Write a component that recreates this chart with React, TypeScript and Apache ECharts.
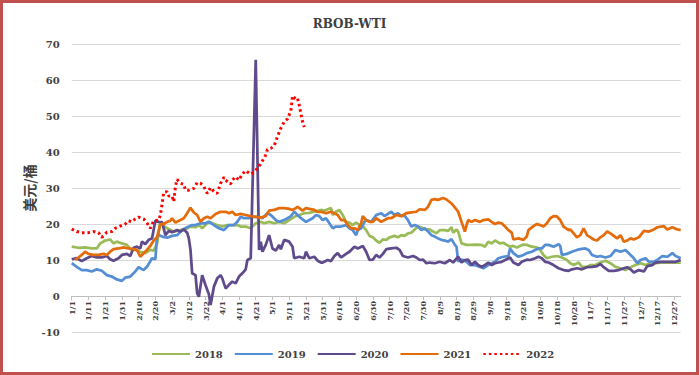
import React, { useEffect, useRef } from "react";
import * as echarts from "echarts";

// Categories: every calendar day of a (non-leap) year, "M/D"
const days: string[] = [];
for (let i = 0; i < 365; i++) {
  const d = new Date(Date.UTC(2021, 0, 1 + i));
  days.push(`${d.getUTCMonth() + 1}/${d.getUTCDate()}`);
}

const yearNames = ["2018", "2019", "2020", "2021", "2022"];

// [day-of-year index, USD/bbl]
const s2018: [number, number][] = [
  [0,13.7],[4,13.4],[8,13.5],[12,13.2],[15,13.2],[17,14.6],[20,15.4],[23,15.7],[25,14.6],[27,15.1],[30,14.6],[33,14.2],[35,13.0],[38,12.8],[41,12.3],[44,11.9],[47,12.8],[49,12.6],[51,14.5],[53,20.6],[55,19.5],[57,18.8],[61,17.9],[65,18.3],[69,18.8],[71,19.3],[74,19.1],[76,19.7],[78,18.8],[80,19.7],[82,20.6],[84,20.2],[87,19.7],[90,19.3],[93,19.7],[96,19.7],[99,19.7],[101,19.3],[104,19.3],[107,18.8],[110,20.2],[113,20.6],[115,20.2],[118,20.6],[121,20.2],[124,20.6],[127,20.2],[130,21.1],[133,22.0],[136,22.5],[139,23.0],[142,23.1],[145,23.4],[149,23.9],[151,23.7],[153,24.1],[155,24.4],[156,22.5],[158,23.4],[160,23.9],[162,22.5],[164,20.6],[166,20.4],[168,19.7],[170,20.4],[172,19.7],[174,19.4],[176,18.3],[178,16.7],[180,16.3],[182,15.4],[184,14.8],[186,15.7],[188,15.6],[190,16.3],[193,16.7],[195,16.3],[197,16.9],[199,16.7],[201,17.4],[203,17.6],[205,18.5],[207,19.3],[209,19.1],[211,18.5],[214,18.5],[216,17.9],[218,17.4],[220,18.3],[223,18.3],[225,18.1],[227,19.1],[228,17.6],[230,18.5],[231,17.9],[233,14.6],[236,14.2],[239,14.2],[242,14.3],[245,14.2],[247,13.7],[249,15.1],[251,14.6],[253,15.4],[256,14.6],[258,14.8],[260,14.2],[262,13.7],[264,13.9],[266,13.5],[268,13.9],[270,14.3],[272,14.2],[275,13.7],[278,13.5],[280,12.8],[282,11.4],[284,10.5],[287,10.9],[290,11.1],[293,10.7],[296,10.0],[298,9.1],[300,8.6],[303,9.3],[305,8.1],[308,8.1],[310,8.6],[313,8.6],[316,9.3],[319,9.8],[322,9.1],[325,8.1],[328,7.7],[331,7.2],[334,8.0],[337,8.6],[340,9.1],[343,8.6],[346,9.1],[349,9.1],[352,9.3],[356,9.3],[360,9.3],[364,9.3]
];

const s2019: [number, number][] = [
  [0,9.1],[3,8.1],[6,7.2],[9,7.2],[12,6.8],[15,7.4],[18,7.0],[21,5.8],[24,5.4],[27,4.6],[30,4.2],[32,5.1],[35,5.4],[38,6.8],[40,8.0],[43,7.2],[45,8.1],[48,10.5],[50,10.2],[51,16.5],[52,17.0],[54,16.5],[57,16.2],[60,16.7],[63,16.9],[66,18.3],[69,19.1],[72,19.7],[74,19.7],[77,20.2],[80,20.2],[82,20.6],[85,19.7],[88,18.8],[91,18.3],[94,19.7],[97,19.7],[99,20.6],[101,22.0],[103,21.6],[106,21.6],[109,22.0],[112,22.0],[114,21.6],[117,23.0],[119,22.5],[122,21.1],[124,20.6],[127,21.1],[129,21.6],[131,22.2],[133,23.4],[135,22.5],[137,21.6],[140,20.6],[142,21.1],[144,21.6],[146,22.5],[148,22.2],[150,21.1],[152,21.6],[154,20.2],[156,18.8],[158,19.3],[161,19.3],[164,19.7],[166,18.8],[168,18.3],[170,16.9],[171,18.3],[173,18.8],[175,20.6],[176,21.1],[179,20.6],[182,22.5],[185,23.0],[187,22.2],[189,22.8],[191,23.4],[193,22.5],[195,23.0],[197,22.2],[199,22.3],[201,21.1],[203,19.3],[205,19.7],[207,19.3],[209,18.3],[211,18.8],[213,17.9],[215,16.9],[217,16.5],[219,16.0],[221,15.6],[223,15.4],[225,15.1],[227,15.8],[229,14.2],[230,13.7],[231,9.5],[232,10.2],[234,10.0],[236,9.5],[238,8.6],[241,8.6],[244,8.1],[246,7.7],[249,8.6],[251,9.1],[253,9.5],[255,10.5],[258,10.9],[261,11.1],[262,13.2],[264,11.9],[267,10.9],[270,11.4],[272,11.9],[275,12.3],[277,12.8],[279,13.2],[281,13.2],[283,14.2],[285,14.2],[288,13.7],[291,14.4],[292,13.9],[293,11.4],[296,11.7],[299,12.3],[302,12.8],[304,13.0],[307,13.2],[309,12.8],[311,11.4],[314,10.9],[316,11.1],[319,10.7],[322,11.1],[325,12.8],[328,12.3],[331,12.8],[333,11.9],[336,10.5],[338,9.1],[340,10.0],[343,10.5],[345,9.5],[348,9.5],[350,10.0],[353,11.1],[356,10.9],[359,11.9],[361,11.1],[364,10.5]
];

const s2020: [number, number][] = [
  [0,10.2],[3,10.5],[6,9.7],[9,10.5],[12,11.1],[15,10.7],[18,10.7],[21,11.1],[23,10.2],[25,9.8],[28,10.5],[30,11.4],[33,11.7],[35,11.1],[37,13.4],[39,13.7],[41,13.2],[42,15.1],[44,14.4],[46,15.6],[48,16.0],[50,20.9],[52,20.6],[54,20.5],[56,16.9],[58,18.1],[60,17.7],[63,18.3],[65,17.9],[67,18.5],[69,17.6],[70,16.0],[71,12.8],[72,6.3],[74,5.8],[75,0.7],[76,-0.2],[78,5.8],[80,3.0],[82,0.5],[83,-2.5],[85,2.6],[87,4.9],[89,5.8],[90,4.9],[92,2.1],[94,3.1],[96,4.0],[98,3.5],[100,5.4],[102,6.3],[104,7.4],[105,10.0],[107,10.5],[110,65.6],[112,12.8],[113,15.1],[114,12.3],[116,14.2],[118,16.9],[120,13.2],[122,12.6],[124,14.2],[125,13.0],[127,15.6],[130,15.1],[132,13.7],[133,10.5],[136,10.9],[139,10.5],[140,12.3],[142,10.5],[145,10.9],[147,9.8],[149,9.3],[150,9.3],[153,10.0],[155,9.7],[157,11.1],[159,11.9],[161,10.7],[164,11.7],[166,12.3],[169,13.7],[171,13.2],[174,13.9],[176,12.3],[178,10.0],[180,10.1],[182,11.4],[184,10.7],[186,11.7],[188,13.0],[191,13.2],[194,13.4],[196,12.8],[198,11.1],[201,10.7],[204,11.1],[206,10.7],[208,10.0],[210,10.1],[212,9.1],[214,9.3],[217,9.1],[220,9.5],[223,9.1],[226,10.0],[228,9.3],[231,10.9],[233,9.3],[235,10.0],[237,10.1],[239,8.6],[241,9.5],[243,8.6],[245,8.1],[247,8.6],[249,9.3],[251,8.6],[253,9.1],[255,9.3],[257,9.5],[260,10.2],[262,10.7],[264,9.3],[267,8.6],[269,9.5],[272,10.1],[274,10.0],[277,10.5],[279,10.9],[281,10.5],[283,9.5],[285,9.3],[288,8.6],[291,7.7],[294,7.2],[297,7.0],[299,7.4],[302,7.7],[305,7.4],[308,8.0],[311,8.1],[314,8.3],[316,8.9],[318,8.0],[321,7.0],[324,7.0],[327,7.2],[330,7.7],[332,8.0],[334,7.4],[336,6.5],[339,7.2],[342,6.8],[344,8.3],[347,8.6],[349,9.3],[352,9.5],[355,9.5],[358,9.5],[361,9.5],[364,10.0]
];

const s2021: [number, number][] = [
  [2,10.0],[4,10.7],[6,11.4],[8,12.3],[10,11.7],[13,11.4],[16,11.4],[19,11.7],[21,11.4],[23,12.3],[25,13.0],[28,13.2],[31,13.5],[34,13.2],[37,13.0],[39,12.8],[41,10.9],[43,11.9],[45,12.8],[47,13.9],[49,15.4],[51,16.3],[53,20.0],[55,20.0],[57,20.6],[59,20.9],[60,21.6],[62,20.4],[65,21.1],[67,21.6],[69,23.0],[71,24.5],[73,23.2],[75,22.5],[77,20.6],[79,21.6],[81,22.0],[83,21.6],[86,22.8],[89,23.4],[92,23.4],[94,23.0],[96,23.4],[98,22.5],[101,22.8],[104,22.5],[107,22.2],[110,22.0],[113,21.8],[116,22.2],[118,23.7],[121,23.9],[124,24.4],[127,24.4],[130,24.2],[132,23.9],[134,24.4],[135,24.8],[138,23.7],[140,24.4],[142,24.2],[145,23.9],[147,23.4],[149,23.4],[152,23.0],[155,23.4],[157,23.0],[159,22.5],[161,21.1],[163,21.1],[165,19.7],[167,18.8],[169,18.8],[171,18.3],[173,20.2],[174,22.2],[176,21.1],[178,20.6],[180,20.6],[182,21.6],[185,20.6],[187,21.1],[189,21.6],[191,21.6],[194,22.5],[197,22.2],[200,23.0],[203,23.2],[206,23.4],[208,24.1],[211,23.9],[213,24.8],[215,26.7],[217,26.9],[219,26.7],[222,27.2],[224,26.8],[227,25.7],[229,24.6],[231,23.4],[233,20.6],[235,17.9],[236,19.7],[237,21.1],[239,20.6],[241,21.1],[244,20.6],[246,21.1],[249,21.3],[251,20.6],[253,20.0],[255,20.4],[257,20.2],[259,19.3],[261,18.3],[263,17.6],[264,15.7],[267,16.0],[270,15.6],[272,16.5],[273,18.3],[276,19.4],[278,20.0],[280,19.7],[282,19.3],[284,20.2],[286,21.6],[288,22.2],[290,22.1],[292,21.1],[294,19.3],[297,18.3],[298,18.5],[300,17.4],[302,16.3],[304,16.9],[306,18.8],[308,16.9],[310,16.3],[312,15.7],[314,15.4],[316,16.3],[318,16.9],[320,17.9],[322,17.4],[324,16.7],[326,16.0],[328,16.9],[330,15.1],[332,15.4],[334,16.0],[336,15.7],[339,16.3],[342,18.1],[345,17.9],[348,18.5],[350,19.1],[354,19.4],[356,18.5],[359,19.1],[362,18.5],[364,18.3]
];

const s2022: [number, number][] = [
  [0,18.6],[3,17.9],[6,17.6],[10,17.6],[13,17.9],[16,17.6],[18,16.3],[21,17.7],[24,17.9],[26,18.8],[29,19.4],[32,20.0],[34,20.9],[36,20.6],[38,21.4],[40,21.9],[43,21.4],[45,20.3],[47,18.8],[49,20.9],[52,21.1],[53,22.5],[54,25.5],[55,28.8],[57,29.0],[58,27.8],[60,27.8],[61,26.2],[62,30.4],[63,32.4],[65,31.3],[67,31.0],[68,29.4],[70,29.4],[73,29.9],[75,31.5],[77,31.3],[79,30.4],[81,28.5],[83,30.1],[85,29.0],[87,28.5],[89,31.3],[91,33.0],[92,32.2],[95,31.1],[96,32.2],[98,33.1],[100,32.2],[102,33.9],[104,34.8],[107,33.8],[109,34.4],[111,35.5],[113,36.7],[116,39.2],[117,40.7],[119,41.0],[121,41.7],[123,44.3],[125,46.6],[127,48.4],[129,49.2],[131,51.5],[132,55.6],[134,54.6],[135,54.9],[136,53.0],[137,50.6],[138,48.4],[139,46.9]
];

const seriesData = [s2018, s2019, s2020, s2021, s2022];
const colors = ["#9BBB59", "#558ED5", "#5F4B8B", "#E46C0A", "#FF0000"];

const latin = "'DejaVu Serif', serif";
const textColor = "#404040";

export default function App() {
  const ref = useRef<HTMLDivElement>(null);
  useEffect(() => {
    if (!ref.current) return;
    const chart = echarts.init(ref.current, undefined, { renderer: "svg" });
    chart.setOption({
      animation: false,
      backgroundColor: "#FFFFFF",
      color: colors,
      title: {
        text: "RBOB-WTI",
        left: "center",
        top: 13,
        textStyle: { fontFamily: latin, fontSize: 12, fontWeight: "bold", color: textColor },
      },
      graphic: [
        {
          type: "rect",
          shape: { x: 1.5, y: 1.5, width: 696, height: 372 },
          style: { fill: "none", stroke: "#C0504D", lineWidth: 3 },
          z: 100,
        },
      ],
      legend: {
        top: 349,
        left: 151,
        padding: 0,
        itemWidth: 38,
        itemHeight: 12,
        itemGap: 11,
        data: yearNames,
        itemStyle: { opacity: 0 },
        textStyle: { fontFamily: latin, fontSize: 10, fontWeight: "bold", color: textColor },
      },
      grid: { left: 71.7, top: 44, width: 609, height: 288, containLabel: false },
      xAxis: {
        type: "category",
        data: days,
        boundaryGap: false,
        position: "bottom",
        offset: -36,
        axisLine: { onZero: false, lineStyle: { color: "#BFBFBF", width: 1 } },
        axisTick: { show: true, interval: 9, length: 4, lineStyle: { color: "#BFBFBF" } },
        axisLabel: {
          interval: 9,
          rotate: 90,
          margin: 5,
          fontFamily: latin,
          fontSize: 8,
          fontWeight: "bold",
          color: textColor,
        },
        splitLine: { show: false },
      },
      yAxis: {
        type: "value",
        min: -10,
        max: 70,
        interval: 10,
        name: "美元/桶",
        nameLocation: "middle",
        nameGap: 36,
        nameRotate: 90,
        nameMoveOverlap: false,
        nameTextStyle: {
          fontFamily: "'Noto Sans CJK SC', sans-serif",
          fontSize: 14,
          fontWeight: "bold",
          color: textColor,
        },
        axisLine: { show: false },
        axisTick: { show: false },
        axisLabel: { margin: 12, fontFamily: latin, fontSize: 10, fontWeight: "bold", color: textColor },
        splitLine: { lineStyle: { color: "#D9D9D9", width: 1 } },
      },
      series: yearNames.map((name, i) => ({
        name,
        type: "line",
        data: seriesData[i],
        showSymbol: false,
        symbol: "none",
        connectNulls: true,
        lineStyle:
          i === 4
            ? { width: 3, color: colors[i], type: [2.5, 3] }
            : { width: 2.75, color: colors[i] },
        itemStyle: { color: colors[i] },
      })),
    });
    return () => chart.dispose();
  }, []);
  return (
    <div
      ref={ref}
      style={{ position: "fixed", left: 0, top: 0, width: 699, height: 375, background: "#fff" }}
    />
  );
}
